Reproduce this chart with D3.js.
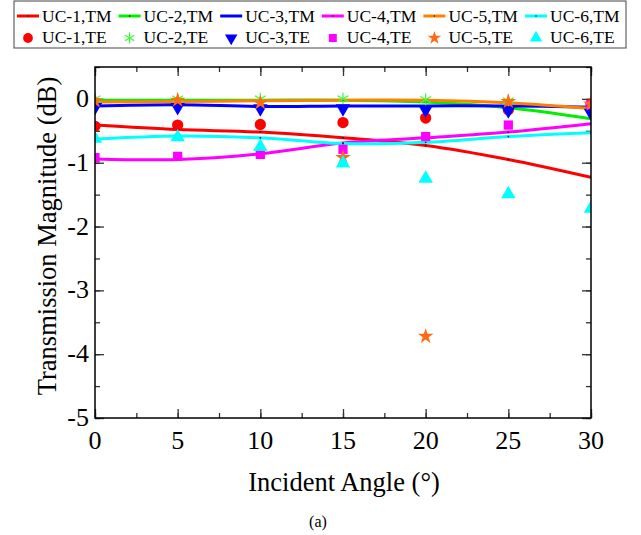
<!DOCTYPE html>
<html>
<head>
<meta charset="utf-8">
<title>Transmission vs incident angle</title>
<script src="https://d3js.org/d3.v7.min.js"></script>
<style>
  body { margin: 0; background: #fff; }
  text { font-family: "Liberation Serif", "Times New Roman", serif; fill: #000; }
</style>
</head>
<body>
<svg width="641" height="535"></svg>
<script>
// data
var angles = [0, 5, 10, 15, 20, 25, 30];
var names = ["UC-1", "UC-2", "UC-3", "UC-4", "UC-5", "UC-6"];
var tm1 = [-0.41, -0.48, -0.52, -0.61, -0.73, -0.95, -1.23];
var tm2 = [-0.02, -0.02, -0.02, -0.02, -0.05, -0.14, -0.31];
var tm3 = [-0.11, -0.09, -0.12, -0.11, -0.11, -0.11, -0.13];
var tm4 = [-0.94, -0.95, -0.86, -0.69, -0.61, -0.52, -0.39];
var tm5 = [-0.05, -0.04, -0.03, -0.02, -0.02, -0.06, -0.15];
var tm6 = [-0.63, -0.58, -0.61, -0.70, -0.68, -0.59, -0.53];
var te1 = [-0.43, -0.41, -0.40, -0.37, -0.30, -0.17, -0.08];
var te2 = [0.0, 0.0, 0.0, 0.0, -0.01, -0.03, -0.12];
var te3 = [-0.13, -0.13, -0.15, -0.15, -0.17, -0.18, -0.22];
var te4 = [-0.92, -0.90, -0.87, -0.79, -0.59, -0.41, -0.09];
var te5 = [-0.03, -0.02, -0.06, -0.92, -3.72, -0.04, -0.08];
var te6 = [-0.62, -0.60, -0.75, -1.01, -1.25, -1.49, -1.72];
var xTicks = [0, 5, 10, 15, 20, 25, 30];
var yTicks = [0, -1, -2, -3, -4, -5];

var tmSeries = [tm1, tm2, tm3, tm4, tm5, tm6];
var teSeries = [te1, te2, te3, te4, te5, te6];
var lineColors = ["#ff0000", "#00ee00", "#0000ff", "#ff00ff", "#ff8000", "#00ffff"];
var markColors = ["#ff0000", "#33ff33", "#0000ff", "#ff00ff", "#ff6a13", "#00ffff"];

var svg = d3.select("svg");
// plot box (note: "top" is a reserved window property, so use other names)
const pL = 95, pR = 591, pT = 67, pB = 418;

const x = d3.scaleLinear().domain([0, 30]).range([pL, pR]);
const y = d3.scaleLinear().domain([-5, 0.5]).range([pB, pT]);

svg.append("clipPath").attr("id", "plotclip")
  .append("rect")
  .attr("x", pL).attr("y", pT)
  .attr("width", pR - pL).attr("height", pB - pT);

// axes, ticks pointing inward, mirrored on top and right
var minorX = d3.range(0, 30.01, 2.5);
var minorY = d3.range(-5, 0.51, 0.5);

function noDomain(g) { g.select(".domain").remove(); }

svg.append("g").attr("transform", `translate(0, ${pB})`)
  .call(d3.axisTop(x).tickValues(minorX).tickSize(5).tickFormat("")).call(noDomain);
svg.append("g").attr("transform", `translate(0, ${pB})`)
  .call(d3.axisTop(x).tickValues(xTicks).tickSize(9).tickFormat("")).call(noDomain);
svg.append("g").attr("transform", `translate(0, ${pT})`)
  .call(d3.axisBottom(x).tickValues(minorX).tickSize(5).tickFormat("")).call(noDomain);
svg.append("g").attr("transform", `translate(0, ${pT})`)
  .call(d3.axisBottom(x).tickValues(xTicks).tickSize(9).tickFormat("")).call(noDomain);

svg.append("g").attr("transform", `translate(${pL}, 0)`)
  .call(d3.axisRight(y).tickValues(minorY).tickSize(5).tickFormat("")).call(noDomain);
svg.append("g").attr("transform", `translate(${pL}, 0)`)
  .call(d3.axisRight(y).tickValues(yTicks).tickSize(9).tickFormat("")).call(noDomain);
svg.append("g").attr("transform", `translate(${pR}, 0)`)
  .call(d3.axisLeft(y).tickValues(minorY).tickSize(5).tickFormat("")).call(noDomain);
svg.append("g").attr("transform", `translate(${pR}, 0)`)
  .call(d3.axisLeft(y).tickValues(yTicks).tickSize(9).tickFormat("")).call(noDomain);

svg.selectAll(".tick line").attr("stroke", "#333").attr("stroke-width", 1.3);

// tick labels
svg.append("g").selectAll("text")
  .data(xTicks).enter().append("text")
  .attr("x", d => x(d)).attr("y", pB + 31)
  .attr("text-anchor", "middle")
  .style("font-size", "26px")
  .text(d => d);
svg.append("g").selectAll("text")
  .data(yTicks).enter().append("text")
  .attr("x", pL - 6).attr("y", d => y(d) + 8)
  .attr("text-anchor", "end")
  .style("font-size", "26px")
  .text(d => d);

// axis titles
svg.append("text")
  .attr("x", 344).attr("y", 491)
  .attr("text-anchor", "middle")
  .style("font-size", "26.5px")
  .text("Incident Angle (°)");
svg.append("text")
  .attr("transform", "translate(56, 236) rotate(-90)")
  .attr("text-anchor", "middle")
  .style("font-size", "26.5px")
  .text("Transmission Magnitude (dB)");
svg.append("text")
  .attr("x", 318).attr("y", 527)
  .attr("text-anchor", "middle")
  .style("font-size", "16px")
  .text("(a)");

// lines
var plot = svg.append("g").attr("clip-path", "url(#plotclip)");
var line = d3.line()
  .x((d, i) => x(angles[i]))
  .y(d => y(d))
  .curve(d3.curveCatmullRom);

plot.selectAll(".tm")
  .data(tmSeries).enter().append("path")
  .attr("class", "tm")
  .attr("fill", "none")
  .attr("stroke", (d, i) => lineColors[i])
  .attr("stroke-width", 3)
  .attr("d", line);

plot.selectAll(".tmdots")
  .data(tmSeries).enter().append("g")
  .selectAll("circle")
  .data(d => d).enter().append("circle")
  .attr("cx", (d, i) => x(angles[i]))
  .attr("cy", d => y(d))
  .attr("r", 0.9)
  .attr("fill", "#222");

// TE markers
var symbols = [
  {type: d3.symbolCircle, size: 100, rot: 0},
  {type: d3.symbolAsterisk, size: 110, rot: 0, stroke: true},
  {type: d3.symbolTriangle, size: 90, rot: 180},
  {type: d3.symbolSquare, size: 85, rot: 0},
  {type: d3.symbolStar, size: 75, rot: 0},
  {type: d3.symbolTriangle, size: 90, rot: 0}
];

teSeries.forEach(function(series, k) {
  var s = symbols[k];
  plot.append("g").selectAll("path")
    .data(series).enter().append("path")
    .attr("d", d3.symbol().type(s.type).size(s.size))
    .attr("transform", (d, i) => `translate(${x(angles[i])}, ${y(d)}) rotate(${s.rot})`)
    .attr("fill", s.stroke ? "none" : markColors[k])
    .attr("stroke", s.stroke ? markColors[k] : "none")
    .attr("stroke-width", 1.2);
});

// frame
svg.append("rect")
  .attr("x", pL).attr("y", pT)
  .attr("width", pR - pL).attr("height", pB - pT)
  .attr("fill", "none").attr("stroke", "#000").attr("stroke-width", 1.5);

// legend
var legend = svg.append("g");
legend.append("rect")
  .attr("x", 14).attr("y", 1).attr("width", 612).attr("height", 47)
  .attr("fill", "#fff").attr("stroke", "#444").attr("stroke-width", 1);

var colX = d3.scalePoint().domain(names).range([17, 525]);

names.forEach(function(n, k) {
  var cx = colX(n);
  legend.append("line")
    .attr("x1", cx).attr("x2", cx + 22)
    .attr("y1", 16).attr("y2", 16)
    .attr("stroke", lineColors[k]).attr("stroke-width", 3);
  legend.append("circle")
    .attr("cx", cx + 11).attr("cy", 16).attr("r", 0.8).attr("fill", "#222");
  legend.append("text")
    .attr("x", cx + 25).attr("y", 22)
    .style("font-size", "17.5px")
    .text(n + ",TM");
  var s = symbols[k];
  legend.append("path")
    .attr("d", d3.symbol().type(s.type).size(s.size * 0.75))
    .attr("transform", `translate(${cx + 11}, 38) rotate(${s.rot})`)
    .attr("fill", s.stroke ? "none" : markColors[k])
    .attr("stroke", s.stroke ? markColors[k] : "none")
    .attr("stroke-width", 1.2);
  legend.append("text")
    .attr("x", cx + 25).attr("y", 43)
    .style("font-size", "17.5px")
    .text(n + ",TE");
});
</script>
</body>
</html>
